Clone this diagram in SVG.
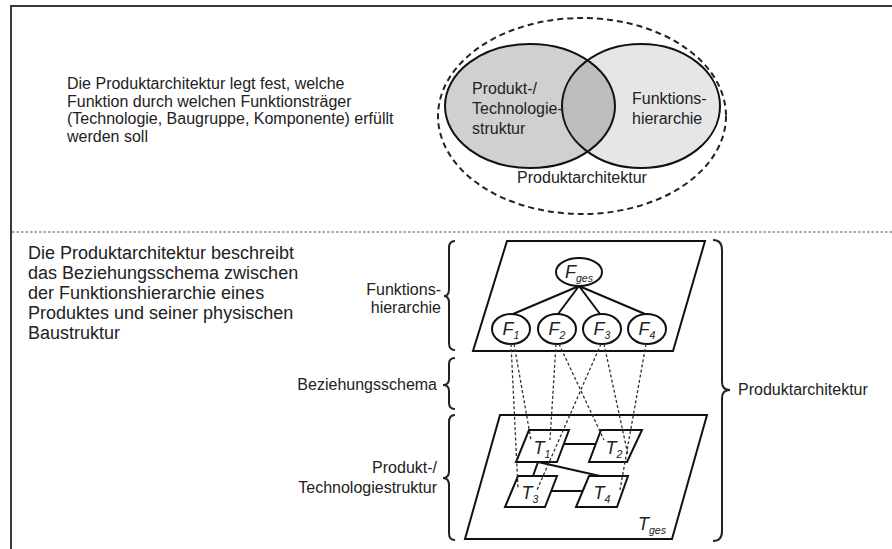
<svg xmlns="http://www.w3.org/2000/svg" width="892" height="549" viewBox="0 0 892 549">
  <style>
    .frame { stroke: #3a3a3a; stroke-width: 2; fill: none; }
    .sep { stroke: #8a8a8a; stroke-width: 1.5; stroke-dasharray: 2.5 2; fill: none; }
    .txt { font-family: "Liberation Sans", Arial, sans-serif; fill: #222; }
    .body { font-size: 18px; }
    .intro { font-size: 16px; }
    .lbl { font-size: 16px; }
    .sym { font-family: "Liberation Sans", Arial, sans-serif; font-style: italic; fill: #222; font-size: 18px; }
    .sub { font-size: 10.5px; }
    .plane { fill: #fff; stroke: #111; stroke-width: 2; }
    .node { fill: #fff; stroke: #111; stroke-width: 2; }
    .edge { stroke: #111; stroke-width: 2; fill: none; }
    .link { stroke: #333; stroke-width: 1.3; stroke-dasharray: 3 2.2; fill: none; }
    .brace { stroke: #222; stroke-width: 2; fill: none; }
  </style>
  <defs>
    <clipPath id="leftVenn">
      <ellipse cx="530" cy="106" rx="85" ry="62"/>
    </clipPath>
  </defs>

  <rect width="892" height="549" fill="#fff"/>

  <!-- outer frame and section divider -->
  <path class="frame" d="M11 549 V6 H892"/>
  <line class="sep" x1="12" y1="232" x2="892" y2="232"/>

  <!-- upper section text -->
  <g id="text-top" class="txt intro">
    <text x="67" y="89">Die Produktarchitektur legt fest, welche</text>
    <text x="67" y="106.5">Funktion durch welchen Funktionsträger</text>
    <text x="67" y="124">(Technologie, Baugruppe, Komponente) erfüllt</text>
    <text x="67" y="141.5">werden soll</text>
  </g>

  <!-- Venn diagram -->
  <g id="venn">
    <ellipse cx="582" cy="116" rx="144" ry="98" fill="none" stroke="#222" stroke-width="2" stroke-dasharray="6 4"/>
    <ellipse cx="530" cy="106" rx="85" ry="62" fill="#d0d0d0"/>
    <ellipse cx="641" cy="106" rx="79" ry="62" fill="#e6e6e6"/>
    <ellipse cx="641" cy="106" rx="79" ry="62" fill="#bdbdbd" clip-path="url(#leftVenn)"/>
    <ellipse cx="530" cy="106" rx="85" ry="62" fill="none" stroke="#111" stroke-width="2"/>
    <ellipse cx="641" cy="106" rx="79" ry="62" fill="none" stroke="#111" stroke-width="2"/>
    <g class="txt lbl">
      <text x="472" y="94">Produkt-/</text>
      <text x="472" y="114">Technologie-</text>
      <text x="472" y="134">struktur</text>
      <text x="632" y="104">Funktions-</text>
      <text x="632" y="124">hierarchie</text>
      <text x="582" y="183" text-anchor="middle">Produktarchitektur</text>
    </g>
  </g>

  <!-- lower section text -->
  <g id="text-bottom" class="txt body">
    <text x="28" y="259">Die Produktarchitektur beschreibt</text>
    <text x="28" y="279">das Beziehungsschema zwischen</text>
    <text x="28" y="299">der Funktionshierarchie eines</text>
    <text x="28" y="319">Produktes und seiner physischen</text>
    <text x="28" y="339">Baustruktur</text>
  </g>

  <!-- level labels with braces -->
  <g id="label-funktionshierarchie">
    <path class="brace" d="M455 241 Q449 241 449 248 V289 Q449 296 444 296 Q449 296 449 303 V343 Q449 350 455 350"/>
    <g class="txt lbl" text-anchor="end">
      <text x="441" y="295">Funktions-</text>
      <text x="441" y="313">hierarchie</text>
    </g>
  </g>
  <g id="label-beziehungsschema">
    <path class="brace" d="M455 358 Q449 358 449 364 V379 Q449 385 443 385 Q449 385 449 391 V403 Q449 409 455 409"/>
    <text class="txt lbl" x="437" y="390" text-anchor="end">Beziehungsschema</text>
  </g>
  <g id="label-technologiestruktur">
    <path class="brace" d="M455 415 Q449 415 449 422 V471 Q449 478 443 478 Q449 478 449 485 V533 Q449 540 455 540"/>
    <g class="txt lbl" text-anchor="end">
      <text x="437" y="473">Produkt-/</text>
      <text x="437" y="493">Technologiestruktur</text>
    </g>
  </g>
  <g id="label-produktarchitektur">
    <path class="brace" d="M713 240 Q722 240 722 250 V382 Q722 390 730 390 Q722 390 722 398 V531 Q722 541 713 541"/>
    <text class="txt lbl" x="738" y="395">Produktarchitektur</text>
  </g>

  <!-- function hierarchy plane -->
  <g id="plane-funktionen">
    <polygon class="plane" points="507,241 705,241 673,351 473,351"/>
  </g>
  <g id="tree-edges">
    <path class="edge" d="M579 286 L513 314 M579 286 L558 314 M579 286 L600 314 M579 286 L645 314"/>
  </g>
  <g id="F-ges">
    <ellipse class="node" cx="579" cy="272" rx="23" ry="14"/>
    <text class="sym" x="579" y="278" text-anchor="middle">F<tspan class="sub" dy="4">ges</tspan></text>
  </g>
  <g id="F1">
    <ellipse class="node" cx="511" cy="329" rx="19" ry="15"/>
    <text class="sym" x="511" y="335" text-anchor="middle">F<tspan class="sub" dy="4">1</tspan></text>
  </g>
  <g id="F2">
    <ellipse class="node" cx="557" cy="329" rx="19" ry="15"/>
    <text class="sym" x="557" y="335" text-anchor="middle">F<tspan class="sub" dy="4">2</tspan></text>
  </g>
  <g id="F3">
    <ellipse class="node" cx="602" cy="329" rx="19" ry="15"/>
    <text class="sym" x="602" y="335" text-anchor="middle">F<tspan class="sub" dy="4">3</tspan></text>
  </g>
  <g id="F4">
    <ellipse class="node" cx="647" cy="329" rx="19" ry="15"/>
    <text class="sym" x="647" y="335" text-anchor="middle">F<tspan class="sub" dy="4">4</tspan></text>
  </g>

  <!-- technology structure plane -->
  <g id="plane-technologie">
    <polygon class="plane" points="500,415 707,415 672,539 465,539"/>
    <text class="sym" x="652" y="530" text-anchor="middle">T<tspan class="sub" dy="4">ges</tspan></text>
  </g>
  <g id="tech-edges">
    <path class="edge" d="M563 444 H595 M549 491 H582 M538 462 L533 476 M538 462 L600 476"/>
  </g>
  <g id="T1">
    <polygon class="node" points="529,430 569,430 557,462 516,462"/>
    <text class="sym" x="542" y="454" text-anchor="middle">T<tspan class="sub" dy="4">1</tspan></text>
  </g>
  <g id="T2">
    <polygon class="node" points="601,430 642,430 627,462 589,462"/>
    <text class="sym" x="614" y="454" text-anchor="middle">T<tspan class="sub" dy="4">2</tspan></text>
  </g>
  <g id="T3">
    <polygon class="node" points="518,476 557,476 545,507 505,507"/>
    <text class="sym" x="530" y="499" text-anchor="middle">T<tspan class="sub" dy="4">3</tspan></text>
  </g>
  <g id="T4">
    <polygon class="node" points="589,476 628,476 617,507 576,507"/>
    <text class="sym" x="602" y="499" text-anchor="middle">T<tspan class="sub" dy="4">4</tspan></text>
  </g>

  <!-- relation scheme: dashed assignments from functions to technologies -->
  <g id="connectors">
    <line class="link" x1="511" y1="344" x2="518" y2="488"/>
    <line class="link" x1="514" y1="344" x2="531" y2="440"/>
    <line class="link" x1="556" y1="344" x2="550" y2="440"/>
    <line class="link" x1="559" y1="344" x2="604" y2="440"/>
    <line class="link" x1="601" y1="344" x2="537" y2="490"/>
    <line class="link" x1="604" y1="344" x2="628" y2="455"/>
    <line class="link" x1="646" y1="344" x2="620" y2="490"/>
  </g>
</svg>
